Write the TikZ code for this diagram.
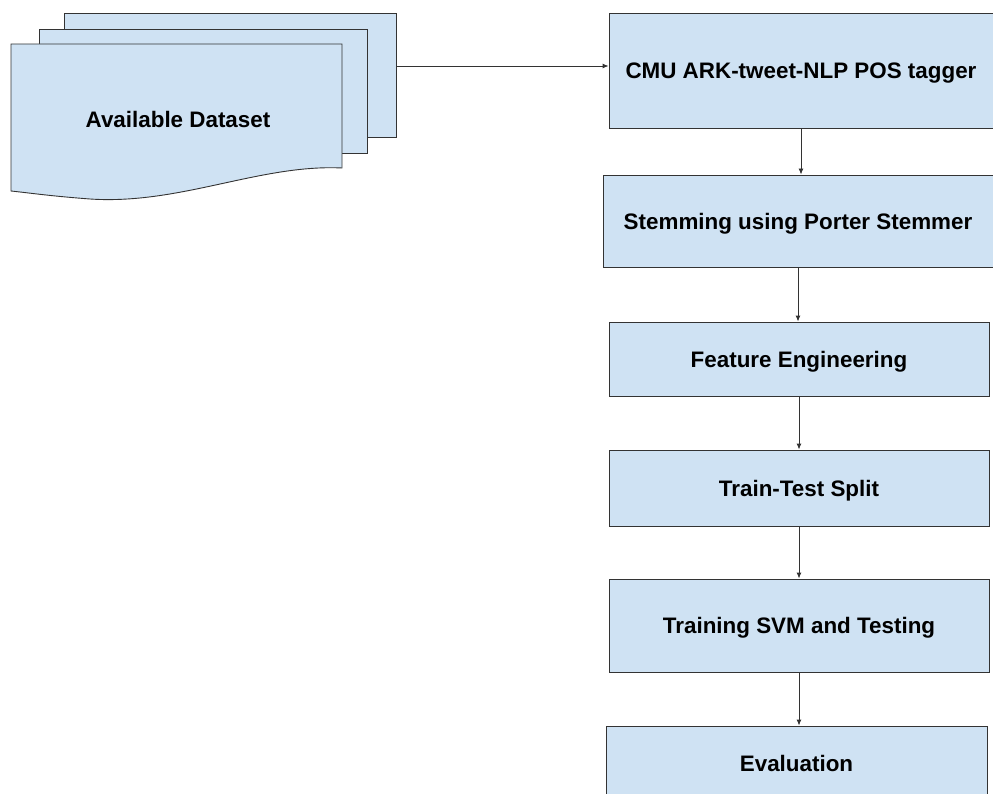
\documentclass[tikz,border=0pt]{standalone}
\usepackage{fontspec}
\setmainfont{Liberation Sans}
\usetikzlibrary{arrows.meta}
\definecolor{sheetblue}{HTML}{CFE2F3}
\definecolor{edgegray}{HTML}{333333}

\begin{document}
\begin{tikzpicture}[x=1pt, y=-1pt,
  stage/.style={draw=edgegray, fill=sheetblue, line width=0.9pt, inner sep=0pt, text depth=0pt,
    font=\fontsize{22.4}{26}\selectfont\bfseries},
  flow/.style={draw=edgegray, line width=0.9pt, -{Latex[length=6pt,width=5pt]}}]
\newcommand\SheetShape[2]{#1 rectangle #2}
\useasboundingbox (0,0) rectangle (993,794);
\clip (0,0) rectangle (993,794);
% stacked dataset sheets
\filldraw[fill=sheetblue, draw=edgegray, line width=0.9pt] \SheetShape{(64,13)}{(396,137)};
\filldraw[fill=sheetblue, draw=edgegray, line width=0.9pt] \SheetShape{(39,29)}{(367,153)};
\filldraw[fill=sheetblue, draw=edgegray, line width=0.9pt] (11,44) -- (342,44) -- (342,168)
  .. controls (260,164) and (180,205) .. (90,199)
  .. controls (50,196) and (30,193) .. (11,191) -- cycle;
\node[font=\fontsize{22.4}{26}\selectfont\bfseries] (data) at (178,119) {Available Dataset};
\coordinate (dataout) at (396,66);
% pipeline
\node[stage, minimum width=384, minimum height=115] (tagger) at (801,70.5) {CMU ARK-tweet-NLP POS tagger};
\node[stage, minimum width=390, minimum height=92] (stem) at (798,221) {Stemming using Porter Stemmer};
\node[stage, minimum width=380, minimum height=74] (feat) at (799,359) {Feature Engineering};
\node[stage, minimum width=380, minimum height=76] (split) at (799,488) {Train-Test Split};
\node[stage, minimum width=380, minimum height=93] (svm) at (799,625.5) {Training SVM and Testing};
\node[stage, minimum width=381, minimum height=74] (eval) at (796.5,763) {Evaluation};
\draw[flow] (dataout) -- (dataout -| tagger.west);
\draw[flow] (tagger.south) -- (tagger.south |- stem.north);
\draw[flow] (stem.south) -- (stem.south |- feat.north);
\draw[flow] (feat.south) -- (feat.south |- split.north);
\draw[flow] (split.south) -- (split.south |- svm.north);
\draw[flow] (svm.south) -- (svm.south |- eval.north);
\end{tikzpicture}
\end{document}
